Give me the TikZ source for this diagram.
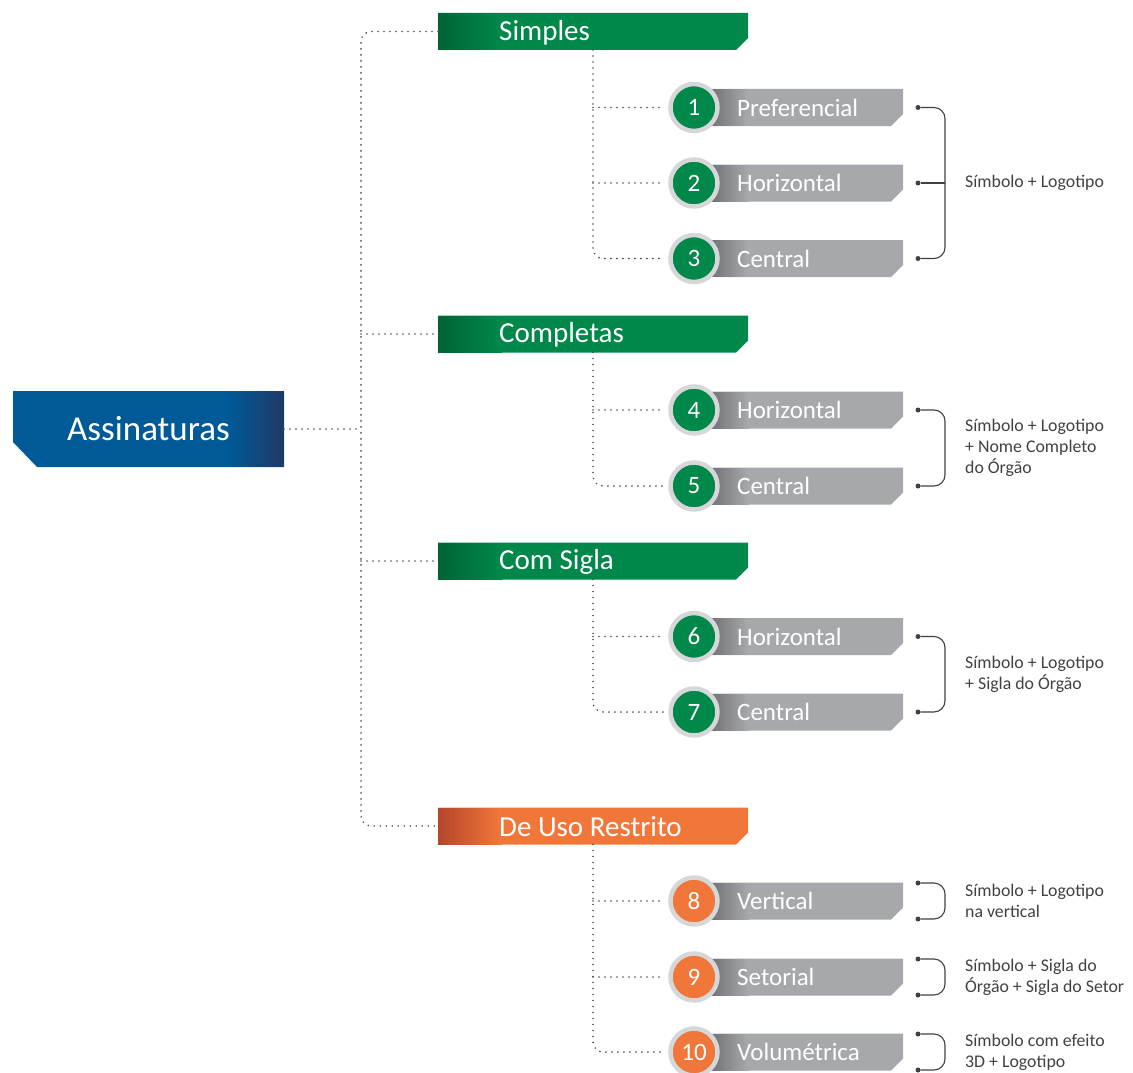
\documentclass[tikz,border=0pt]{standalone}
\usepackage{fontspec}
\setmainfont{Carlito}
\usetikzlibrary{calc}
\usetikzlibrary{positioning}
\definecolor{br-blue}{RGB}{0, 90, 152}
\definecolor{dk-blue}{RGB}{30, 58, 104}
\definecolor{br-green}{RGB}{0, 136, 74}
\definecolor{dk-green}{RGB}{0, 100, 52}
\definecolor{br-orange}{RGB}{240, 118, 58}
\definecolor{dk-orange}{RGB}{181, 71, 43}
\definecolor{bar-gray}{RGB}{166, 168, 171}
\definecolor{dk-gray}{RGB}{105, 106, 109}
\definecolor{ring-gray}{RGB}{214, 215, 216}
\definecolor{note-gray}{RGB}{65, 64, 66}
\definecolor{dot-gray}{RGB}{80, 80, 82}

% horizontal colour ramp inside a box node: node, start, width, from, to
\newcommand{\hgrad}[5]{%
  \foreach \k in {0,...,23}{%
    \pgfmathsetmacro\xa{#2+#3*\k/24}%
    \pgfmathsetmacro\xb{min(#2+#3*(\k+1.6)/24,#2+#3)}%
    \pgfmathtruncatemacro\p{100-100*\k/23}%
    \fill[#4!\p!#5] ([xshift=\xa pt]#1.north west) rectangle ([xshift=\xb pt]#1.south west);
  }}

\tikzset{
  dots/.style={draw=dot-gray, line width=1.8pt, line cap=round, dash pattern=on 0pt off 6pt},
  brace/.style={draw=note-gray, line width=1.1pt, rounded corners=11pt},
  bdot/.style={circle, fill=note-gray, minimum size=5pt, inner sep=0pt},
  barbox/.style={rectangle, minimum width=#1, minimum height=37pt, inner sep=0pt, outer sep=0pt},
  mainbox/.style={rectangle, minimum width=271pt, minimum height=76pt, inner sep=0pt, outer sep=0pt},
  maintext/.style={text=white, inner sep=0pt, font=\fontsize{35}{40}\selectfont},
  cattext/.style={anchor=west, inner sep=0pt, text=white, font=\fontsize{29}{32}\selectfont},
  itemtext/.style={anchor=west, inner sep=0pt, text=white, font=\fontsize{25}{28}\selectfont},
  numdisc/.style={circle, minimum size=47pt, inner sep=0pt, draw=ring-gray, line width=4.5pt,
    text=white, font=\fontsize{25}{28}\selectfont},
  note/.style={anchor=west, inner sep=0pt, align=left, text=note-gray,
    font=\fontsize{17.8}{21}\selectfont}
}

\begin{document}
\begin{tikzpicture}[x=1pt, y=-1pt]
\useasboundingbox (0,0) rectangle (1133,1073);

% main box
\node[mainbox] (assin) at (148.5,429) {};
\fill[br-blue] (assin.north west) -- (assin.north east) -- (assin.south east)
  -- ([xshift=24pt]assin.south west) -- ([yshift=25pt]assin.south west) -- cycle;
\hgrad{assin}{215}{56}{br-blue}{dk-blue}
\node[maintext] (assin-t) at (assin.center) {Assinaturas};

% groups
\foreach \nm/\ypos/\lbl/\dk/\br in {simples/31.5/Simples/dk-green/br-green,
    completas/334/Completas/dk-green/br-green, comsigla/561/Com Sigla/dk-green/br-green,
    restrito/826/De Uso Restrito/dk-orange/br-orange}{
  \node[barbox=310pt] (\nm) at (593,\ypos) {};
  \fill[\br] (\nm.north west) -- (\nm.north east) -- ([yshift=12pt]\nm.south east)
    -- ([xshift=-12pt]\nm.south east) -- (\nm.south west) -- cycle;
  \hgrad{\nm}{0}{64}{\dk}{\br}
  \node[cattext] (\nm-t) at ([xshift=61pt,yshift=-1pt]\nm.west) {\lbl};
}

% items
\foreach \num/\ypos/\name/\col in {1/107.5/Preferencial/br-green, 2/183/Horizontal/br-green,
    3/258.5/Central/br-green, 4/410/Horizontal/br-green, 5/486/Central/br-green,
    6/636.5/Horizontal/br-green, 7/712/Central/br-green, 8/901/Vertical/br-orange,
    9/977/Setorial/br-orange, 10/1052/Volumétrica/br-orange}{
  \node[barbox=198pt, anchor=west] (i\num) at (705,\ypos) {};
  \fill[bar-gray] (i\num.north west) -- (i\num.north east) -- ([yshift=12pt]i\num.south east)
    -- ([xshift=-12pt]i\num.south east) -- (i\num.south west) -- cycle;
  \hgrad{i\num}{0}{44}{dk-gray}{bar-gray}
  \node[itemtext] (l\num) at ([xshift=32pt]i\num.west) {\name};
  \node[numdisc, fill=\col] (n\num) at ([xshift=-11pt]i\num.west) {\num};
}

% main trunk
\coordinate (hub) at ([xshift=77pt]assin.east);
\draw[dots] (assin.east) -- (hub);
\draw[dots, rounded corners=10pt] (simples.west) -| (hub) |- (restrito.west);
\draw[dots] (completas.west -| hub) -- (completas.west);
\draw[dots] (comsigla.west -| hub) -- (comsigla.west);

% sub trunks
\draw[dots, rounded corners=10pt] (simples.south) |- ([xshift=-5pt]n3.west);
\draw[dots] (n1.west -| simples.south) -- ([xshift=-5pt]n1.west);
\draw[dots] (n2.west -| simples.south) -- ([xshift=-5pt]n2.west);
\draw[dots, rounded corners=10pt] (completas.south) |- ([xshift=-5pt]n5.west);
\draw[dots] (n4.west -| completas.south) -- ([xshift=-5pt]n4.west);
\draw[dots, rounded corners=10pt] (comsigla.south) |- ([xshift=-5pt]n7.west);
\draw[dots] (n6.west -| comsigla.south) -- ([xshift=-5pt]n6.west);
\draw[dots, rounded corners=10pt] (restrito.south) |- ([xshift=-5pt]n10.west);
\draw[dots] (n8.west -| restrito.south) -- ([xshift=-5pt]n8.west);
\draw[dots] (n9.west -| restrito.south) -- ([xshift=-5pt]n9.west);

% braces
\foreach \num in {1,...,7}{
  \node[bdot] (d\num) at ([xshift=15pt]i\num.east) {};
}
\draw[brace] (d1) -- ++(27,0) |- (d3);
\draw[brace] (d2) -- ++(27,0);
\draw[brace] (d4) -- ++(27,0) |- (d5);
\draw[brace] (d6) -- ++(27,0) |- (d7);
\foreach \num in {8,9,10}{
  \node[bdot] (d\num a) at ([xshift=15pt,yshift=18pt]i\num.east) {};
  \node[bdot] (d\num b) at ([xshift=15pt,yshift=-18pt]i\num.east) {};
  \draw[brace] (d\num a) -- ++(27,0) |- (d\num b);
}

% notes
\node[note] (t1) at ([xshift=62pt]i2.east) {Símbolo + Logotipo};
\node[note] (t2) at ([xshift=62pt]$(i4.east)!.5!(i5.east)$) {Símbolo + Logotipo\\+ Nome Completo\\do Órgão};
\node[note] (t3) at ([xshift=62pt]$(i6.east)!.5!(i7.east)$) {Símbolo + Logotipo\\+ Sigla do Órgão};
\node[note] (t8) at ([xshift=62pt]i8.east) {Símbolo + Logotipo\\na vertical};
\node[note] (t9) at ([xshift=62pt]i9.east) {Símbolo + Sigla do\\Órgão + Sigla do Setor};
\node[note] (t10) at ([xshift=62pt]i10.east) {Símbolo com efeito\\3D + Logotipo};
\end{tikzpicture}
\end{document}
